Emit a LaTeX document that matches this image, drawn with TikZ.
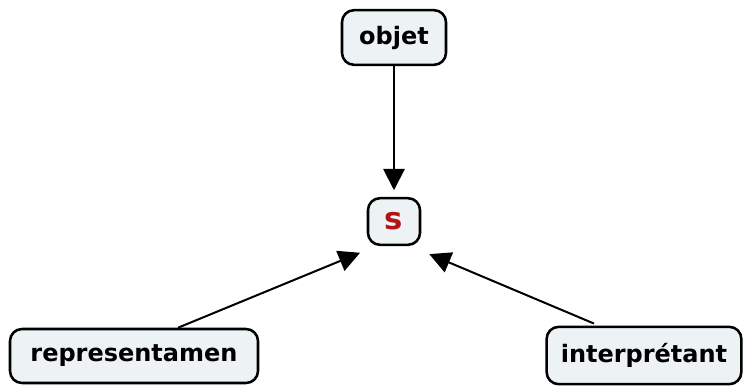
\documentclass[tikz,border=0pt]{standalone}
\usepackage{fontspec}
\setmainfont{DejaVu Sans}
\usetikzlibrary{arrows.meta}
\definecolor{boxfill}{HTML}{EDF2F5}
\definecolor{sred}{HTML}{B01414}

\begin{document}
\begin{tikzpicture}[x=0.75pt,y=-0.75pt,
    concept/.style={draw=black,line width=1.9pt,fill=boxfill,rounded corners=9pt,
        font=\fontsize{18}{21}\selectfont\bfseries,inner sep=0pt},
    link/.style={line width=1.5pt,-{Triangle[length=16pt,width=16pt]}}]
\useasboundingbox (0,0) rectangle (744,387);
\node[concept,minimum width=78pt,minimum height=41pt] (obj) at (394,37.5) {objet};
\node[concept,minimum width=39pt,minimum height=35pt,text=sred,
    font=\fontsize{23}{26}\selectfont\bfseries] (s) at (394,221.5) {s};
\node[concept,minimum width=186pt,minimum height=40.5pt] (rep) at (134,356) {representamen};
\node[concept,minimum width=146pt,minimum height=43pt] (int) at (644,355.5) {interprétant};
\draw[link,shorten >=5pt] (obj) -- (s);
\draw[link] ([xshift=33pt]rep.north) -- ([shift={(-5pt,-5pt)}]s.south west);
\draw[link] ([shift={(-37.5pt,1.5pt)}]int.north) -- ([shift={(6pt,-6pt)}]s.south east);
\end{tikzpicture}
\end{document}
